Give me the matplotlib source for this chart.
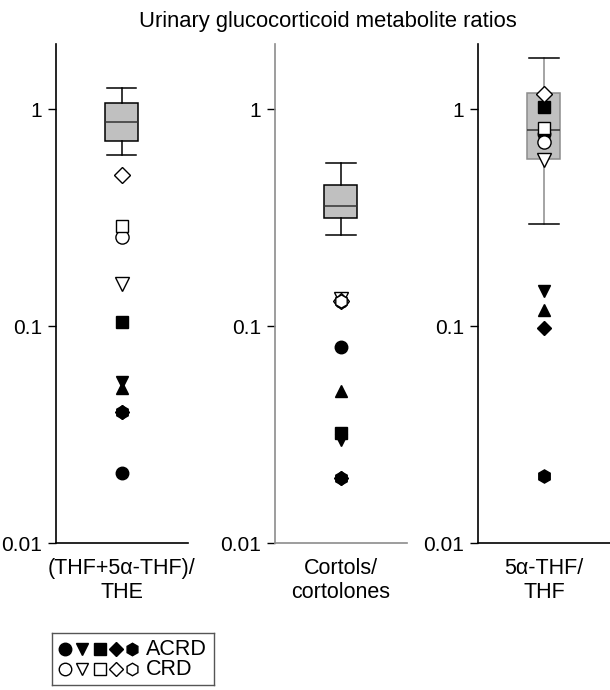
import numpy as np
import matplotlib
matplotlib.use("Agg")
import matplotlib.pyplot as plt
from matplotlib.ticker import FixedLocator, NullLocator

plt.rcParams['font.family'] = ['Liberation Sans', 'DejaVu Sans']
plt.rcParams['font.size'] = 14

# --- data ---
title = "Urinary glucocorticoid metabolite ratios"
categories = ["(THF+5\u03b1-THF)/\nTHE", "Cortols/\ncortolones", "5\u03b1-THF/\nTHF"]

box_whislo = [0.614, 0.262, 0.296]
box_q1 = [0.717, 0.316, 0.593]
box_med = [0.875, 0.358, 0.806]
box_q3 = [1.07, 0.45, 1.19]
box_whishi = [1.26, 0.568, 1.72]

# ACRD patients (filled markers)
acrd_circle = [0.021, 0.080, 0.77]
acrd_tri_down = [0.055, 0.030, 0.145]
acrd_square = [0.105, 0.032, 1.03]
acrd_diamond = [0.040, 0.020, 0.098]
acrd_hexagon = [0.040, 0.020, 0.0204]
acrd_tri_up = [0.052, 0.050, 0.119]

# CRD patients (open markers)
crd_circle = [0.258, 0.130, 0.71]
crd_tri_down = [0.157, 0.134, 0.586]
crd_square = [0.29, np.nan, 0.82]
crd_diamond = [0.497, 0.130, 1.18]
crd_hexagon = [np.nan, 0.130, np.nan]

acrd_series = [('o', acrd_circle, 9), ('v', acrd_tri_down, 9), ('s', acrd_square, 8.5),
               ('D', acrd_diamond, 7.5), ('h', acrd_hexagon, 9.5), ('^', acrd_tri_up, 9)]
crd_series = [('o', crd_circle, 9.5), ('v', crd_tri_down, 9.5), ('s', crd_square, 9),
              ('D', crd_diamond, 8), ('h', crd_hexagon, 9.5)]

fig = plt.figure(figsize=(6.1, 6.9), dpi=100)

lefts = [0.0913, 0.4508, 0.7836]
spine_colors = ['black', '#8c8c8c', 'black']
whisker_colors = ['black', 'black', '#8c8c8c']

for i, left in enumerate(lefts):
    ax = fig.add_axes([left, 0.213, 0.2164, 0.7232])
    ax.set_yscale('log')
    ax.set_ylim(0.01, 2.0)
    ax.set_xlim(0, 1)

    stats = [dict(whislo=box_whislo[i], q1=box_q1[i], med=box_med[i],
                  q3=box_q3[i], whishi=box_whishi[i], fliers=[])]
    wc = whisker_colors[i]
    ax.bxp(stats, positions=[0.5], widths=0.25, capwidths=0.22,
           patch_artist=True, showfliers=False,
           boxprops=dict(facecolor='#c0c0c0', edgecolor=wc, linewidth=1.1),
           medianprops=dict(color='#333333', linewidth=1.1),
           whiskerprops=dict(color=wc, linewidth=1.1),
           capprops=dict(color='black', linewidth=1.1),
           zorder=2)

    for marker, vals, ms in acrd_series:
        ax.plot([0.5], [vals[i]], marker=marker, ms=ms, color='black',
                mec='black', ls='none', zorder=4, clip_on=False)
    for marker, vals, ms in crd_series:
        ax.plot([0.5], [vals[i]], marker=marker, ms=ms, mfc='white',
                mec='black', mew=1.0, ls='none', zorder=5, clip_on=False)

    for side in ['top', 'right']:
        ax.spines[side].set_visible(False)
    for side in ['left', 'bottom']:
        ax.spines[side].set_color(spine_colors[i])
        ax.spines[side].set_linewidth(1.2)

    ax.yaxis.set_major_locator(FixedLocator([0.01, 0.1, 1]))
    ax.yaxis.set_minor_locator(NullLocator())
    ax.set_yticklabels(['0.01', '0.1', '1'])
    ax.tick_params(axis='y', direction='out', length=6, width=1, pad=4,
                   labelsize=15)
    ax.set_xticks([0.5])
    ax.set_xticklabels([categories[i]], fontsize=15.5, linespacing=1.15)
    ax.tick_params(axis='x', length=0, pad=11)

fig.text(0.5375, 1 - 22 / 690, title, ha='center', va='center', fontsize=15.8)

# legend box
lax = fig.add_axes([0.0848, 0.0072, 0.266, 0.0754])
lax.set_xlim(0, 162)
lax.set_ylim(52, 0)
lax.set_xticks([])
lax.set_yticks([])
for s in lax.spines.values():
    s.set_color('#555555')
    s.set_linewidth(1)
leg_markers = ['o', 'v', 's', 'D', 'h']
leg_x = [13, 30, 48, 64, 80]
for m, x in zip(leg_markers, leg_x):
    ms = 7 if m == 'D' else 9
    lax.plot([x], [16], marker=m, ms=ms, color='black', ls='none')
    lax.plot([x], [36], marker=m, ms=ms, mfc='white', mec='black', mew=1, ls='none')
lax.text(94, 16, "ACRD", ha='left', va='center', fontsize=15.5)
lax.text(94, 36, "CRD", ha='left', va='center', fontsize=15.5)

fig.savefig("out.png", dpi=100)
